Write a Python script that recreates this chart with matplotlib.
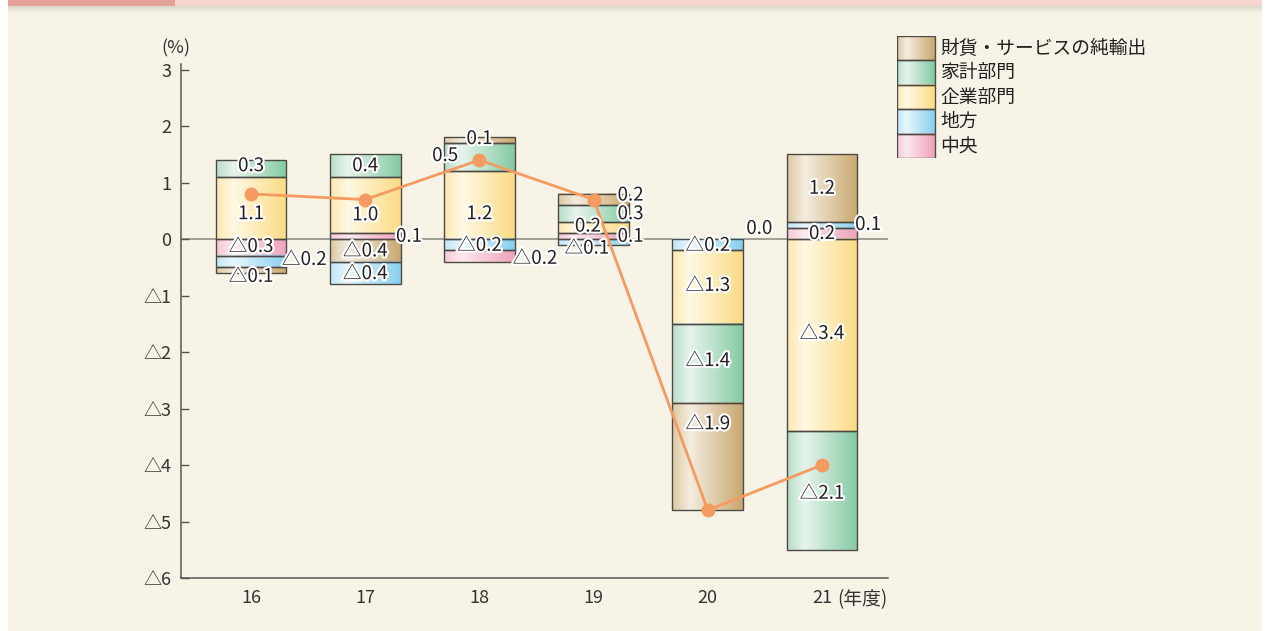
import numpy as np
import matplotlib
matplotlib.use('Agg')
import matplotlib.pyplot as plt
import matplotlib.patheffects as pe
from matplotlib.colors import LinearSegmentedColormap
from matplotlib.patches import Rectangle

plt.rcParams['font.family'] = ['Noto Sans CJK JP', 'DejaVu Sans']

# データ（%ポイント、年度）
years = ['16', '17', '18', '19', '20', '21']
series_names = ['財貨・サービスの純輸出', '家計部門', '企業部門', '地方', '中央']
net_exports = [-0.1, -0.4, 0.1, 0.2, -1.9, 1.2]
household = [0.3, 0.4, 0.5, 0.3, -1.4, -2.1]
corporate = [1.1, 1.0, 1.2, 0.2, -1.3, -3.4]
local_gov = [-0.2, -0.4, -0.2, -0.1, -0.2, 0.1]
central_gov = [-0.3, 0.1, -0.2, 0.1, 0.0, 0.2]
total = [0.8, 0.7, 1.4, 0.7, -4.8, -4.0]
yticks = [3, 2, 1, 0, -1, -2, -3, -4, -5, -6]

values = [net_exports, household, corporate, local_gov, central_gov]

# 積み上げ順 (0 = 純輸出, 1 = 家計, 2 = 企業, 3 = 地方, 4 = 中央)
pos_order = [4, 3, 2, 1, 0]
neg_order = [[4, 3, 0], [0, 3], [3, 4], [3], [3, 2, 1, 0], [2, 1]]

# グラデーション（左・ハイライト・右）
grads = [
    ['#dcc8a2', '#f4ede0', '#c9a86f'],
    ['#b9ddc8', '#e7f4ec', '#84caa3'],
    ['#fde8b2', '#fff8e3', '#fcdb84'],
    ['#c2e7f8', '#e8f7fd', '#86cfef'],
    ['#f6cad8', '#fde9ef', '#eea1ba'],
]
cmaps = [LinearSegmentedColormap.from_list('g%d' % k, [(0, c[0]), (0.25, c[1]), (1, c[2])])
         for k, c in enumerate(grads)]
edge = '#4d4a45'
txt = '#231f20'
line_c = '#f59a60'
bg = '#f7f4e7'

# ラベル位置 (年, 系列) -> (dx, y, ha)
label_pos = {
    (0, 1): (0, 1.30, 'center'), (0, 2): (0, 0.45, 'center'), (0, 4): (0, -0.13, 'center'),
    (0, 3): (0.27, -0.36, 'left'), (0, 0): (0, -0.66, 'center'),
    (1, 1): (0, 1.30, 'center'), (1, 2): (0, 0.43, 'center'), (1, 4): (0.27, 0.05, 'left'),
    (1, 0): (0, -0.21, 'center'), (1, 3): (0, -0.61, 'center'),
    (2, 0): (0, 1.78, 'center'), (2, 1): (-0.30, 1.48, 'center'), (2, 2): (0, 0.45, 'center'),
    (2, 3): (0, -0.11, 'center'), (2, 4): (0.29, -0.34, 'left'),
    (3, 0): (0.21, 0.78, 'left'), (3, 1): (0.21, 0.45, 'left'), (3, 2): (-0.05, 0.23, 'center'),
    (3, 4): (0.21, 0.05, 'left'), (3, 3): (-0.06, -0.16, 'center'),
    (4, 4): (0.45, 0.19, 'center'), (4, 3): (0, -0.11, 'center'), (4, 2): (0, -0.82, 'center'),
    (4, 1): (0, -2.15, 'center'), (4, 0): (0, -3.27, 'center'),
    (5, 0): (0, 0.90, 'center'), (5, 3): (0.29, 0.26, 'left'), (5, 4): (0, 0.10, 'center'),
    (5, 2): (0, -1.67, 'center'), (5, 1): (0, -4.50, 'center'),
}


def fmt(v):
    if v < 0:
        return '△' + ('%.1f' % abs(v))
    return '%.1f' % v


def grad_rect(ax, x0, x1, y0, y1, cmap, z=2):
    g = np.linspace(0, 1, 200).reshape(1, -1)
    ax.imshow(g, extent=(x0, x1, min(y0, y1), max(y0, y1)), cmap=cmap, aspect='auto',
              zorder=z, interpolation='bilinear')
    ax.add_patch(Rectangle((x0, min(y0, y1)), x1 - x0, abs(y1 - y0), fill=False,
                           ec=edge, lw=1.0, zorder=z + 0.1))


fig = plt.figure(figsize=(12.7, 6.31), dpi=100)
fig.patch.set_facecolor('white')
# 背景パネルと上部の帯
fig.patches.append(Rectangle((8 / 1270, 0), 1254 / 1270, 1, transform=fig.transFigure,
                             fc=bg, ec='none', zorder=-10))
for k in range(6):
    fig.patches.append(Rectangle((8 / 1270, (625 - 6 + k) / 631), 1254 / 1270, 1 / 631,
                                 transform=fig.transFigure, fc='#9a9a8a',
                                 alpha=0.05 + 0.05 * k, ec='none', zorder=-9))
fig.patches.append(Rectangle((8 / 1270, 625 / 631), 1254 / 1270, 6 / 631, transform=fig.transFigure,
                             fc='#f5d6cf', ec='none', zorder=-8))
fig.patches.append(Rectangle((8 / 1270, 625 / 631), 167 / 1270, 6 / 631, transform=fig.transFigure,
                             fc='#e3a197', ec='none', zorder=-7))

ax = fig.add_axes([181 / 1270, 53 / 631, 707 / 1270, 514 / 631])
ax.set_facecolor('none')

x = np.arange(len(years))
w = 0.62
for i in range(len(years)):
    base = 0.0
    for s in pos_order:
        v = values[s][i]
        if v > 0:
            grad_rect(ax, x[i] - w / 2, x[i] + w / 2, base, base + v, cmaps[s])
            base += v
    base = 0.0
    for s in neg_order[i]:
        v = values[s][i]
        grad_rect(ax, x[i] - w / 2, x[i] + w / 2, base, base + v, cmaps[s])
        base += v

ax.axhline(0, color='#8a8780', lw=1.1, zorder=1.5)
ax.plot(x, total, color=line_c, lw=2, marker='o', ms=9, zorder=5)

for (i, s), (dx, yy, ha) in label_pos.items():
    ax.text(x[i] + dx, yy, fmt(values[s][i]), ha=ha, va='center', fontsize=13.5, color=txt,
            zorder=7, path_effects=[pe.withStroke(linewidth=3, foreground='white')])

ax.set_xlim(-0.613, 5.578)
ax.set_ylim(-6, 3.1)
ax.set_yticks(yticks)
ax.set_yticklabels([('△%d' % abs(t)) if t < 0 else str(t) for t in yticks])
ax.set_xticks(x)
ax.set_xticklabels(years)
ax.tick_params(axis='y', direction='in', length=6, width=1, color='#555555',
               labelsize=13, labelcolor='#333333', pad=7)
ax.tick_params(axis='x', length=0, labelsize=13, labelcolor='#333333', pad=8)
for sp in ['top', 'right']:
    ax.spines[sp].set_visible(False)
for sp in ['left', 'bottom']:
    ax.spines[sp].set_color('#555555')
    ax.spines[sp].set_linewidth(1.1)

ax.text(-0.66, 3.38, '(%)', ha='center', va='center', fontsize=13, color='#333333')
ax.text(5.13, -6.38, '(年度)', ha='left', va='center', fontsize=13.5, color='#333333')

# 凡例
lax = fig.add_axes([897 / 1270, (631 - 158) / 631, 270 / 1270, 122 / 631])
lax.axis('off')
row = 122 / 5
for k, name in enumerate(series_names):
    grad_rect(lax, 0, 38, k * row, (k + 1) * row, cmaps[k])
    lax.text(43, (k + 0.5) * row, name, ha='left', va='center', fontsize=13.5, color=txt)
lax.set_xlim(0, 270)
lax.set_ylim(122, 0)

fig.savefig('out.png', dpi=100, facecolor=fig.get_facecolor())
